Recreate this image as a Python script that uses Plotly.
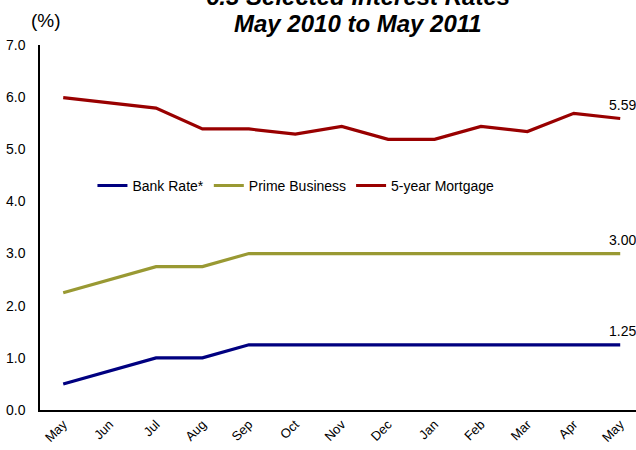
import plotly.graph_objects as go

months = ["May", "Jun", "Jul", "Aug", "Sep", "Oct", "Nov", "Dec",
          "Jan", "Feb", "Mar", "Apr", "May"]
bank_rate = [0.50, 0.75, 1.00, 1.00, 1.25, 1.25, 1.25, 1.25, 1.25, 1.25, 1.25, 1.25, 1.25]
prime = [2.25, 2.50, 2.75, 2.75, 3.00, 3.00, 3.00, 3.00, 3.00, 3.00, 3.00, 3.00, 3.00]
mortgage = [5.99, 5.89, 5.79, 5.39, 5.39, 5.29, 5.44, 5.19, 5.19, 5.44, 5.34, 5.69, 5.59]
y_ticks = [0, 1, 2, 3, 4, 5, 6, 7]

FONT = "Liberation Sans, Arial, sans-serif"
series = [
    ("Bank Rate*", bank_rate, "#000080"),
    ("Prime Business", prime, "#999933"),
    ("5-year Mortgage", mortgage, "#990000"),
]

fig = go.Figure()
for name, vals, col in series:
    fig.add_trace(go.Scatter(x=list(range(len(months))), y=vals, name=name, mode="lines",
                             line=dict(color=col, width=3.2)))

for name, vals, col in series:
    fig.add_annotation(x=len(months) - 1, y=vals[-1], text=f"{vals[-1]:.2f}",
                       showarrow=False, yshift=14, xshift=2,
                       font=dict(family=FONT, size=14, color="#000"))

fig.add_annotation(xref="paper", yref="paper", x=0.534, y=1.133, yanchor="middle",
                   text="<b><i>6.3 Selected Interest Rates</i></b>", showarrow=False,
                   font=dict(family=FONT, size=24, color="#000"))
fig.add_annotation(xref="paper", yref="paper", x=0.534, y=1.059, yanchor="middle",
                   text="<b><i>May 2010 to May 2011</i></b>", showarrow=False,
                   font=dict(family=FONT, size=24, color="#000"))
fig.add_annotation(xref="paper", yref="paper", x=0.010, y=1.066, yanchor="middle",
                   xanchor="center",
                   text="(%)", showarrow=False,
                   font=dict(family=FONT, size=19, color="#000"))

fig.update_layout(
    width=636, height=450,
    margin=dict(l=40, r=0, t=45, b=40),
    plot_bgcolor="white", paper_bgcolor="white",
    font=dict(family=FONT, size=14, color="#000"),
    showlegend=True,
    legend=dict(orientation="h", x=0.088, y=0.614, xanchor="left", yanchor="middle",
                font=dict(family=FONT, size=14, color="#000"),
                bgcolor="rgba(0,0,0,0)", itemwidth=30, tracegroupgap=0),
    xaxis=dict(range=[-0.5, 12.34], tickmode="array", tickvals=list(range(len(months))),
               ticktext=months, tickangle=-45,
               showline=True, linecolor="#000", linewidth=1.5, showgrid=False,
               zeroline=False, ticks="", tickfont=dict(size=13)),
    yaxis=dict(range=[0, 7], tickvals=y_ticks, ticktext=[f"{v:.1f}" for v in y_ticks],
               showline=True, linecolor="#000", linewidth=1.5, showgrid=False,
               zeroline=False, ticks="", ticklabelstandoff=10, tickfont=dict(size=14)),
)

fig.write_html("out.html", config={"displayModeBar": False},
               post_script="document.body.style.margin='0';document.body.style.overflow='hidden';")
